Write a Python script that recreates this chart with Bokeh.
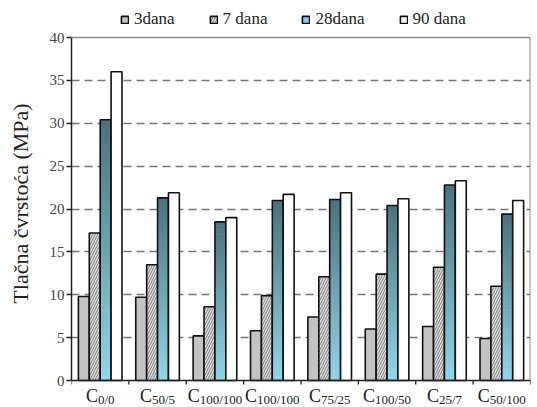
import numpy as np
from bokeh.plotting import figure
from bokeh.models import Range1d, FixedTicker, Legend, LegendItem, Span
from bokeh.core.properties import value
from bokeh.embed import file_html
from bokeh.resources import INLINE

# ---- data ----
groups = ["0/0", "50/5", "100/100", "100/100", "75/25", "100/50", "25/7", "50/100"]
series_names = ["3dana", "7 dana", "28dana", "90 dana"]
d3 = [9.8, 9.7, 5.2, 5.8, 7.4, 6.0, 6.3, 4.9]
d7 = [17.2, 13.5, 8.6, 9.9, 12.1, 12.4, 13.2, 11.0]
d28 = [30.4, 21.3, 18.5, 21.0, 21.1, 20.4, 22.8, 19.4]
d90 = [36.0, 21.9, 19.0, 21.7, 21.9, 21.2, 23.3, 21.0]
yticks = [0, 5, 10, 15, 20, 25, 30, 35, 40]

SERIF = "Liberation Serif"
FRAME_W, FRAME_H = 459, 404
PXY = 8.575                          # pixels per y unit
Y_LO = -25 / PXY
Y_HI = Y_LO + FRAME_H / PXY
PXX = FRAME_W / len(groups)          # pixels per x unit

p = figure(width=536, height=406, x_range=Range1d(0, len(groups)), y_range=Range1d(Y_LO, Y_HI),
           output_backend="svg", toolbar_location=None,
           min_border_left=71, min_border_right=6, min_border_top=1, min_border_bottom=1)
p.background_fill_color = "white"
p.border_fill_color = "white"
p.outline_line_color = None
p.xaxis.visible = False

# grid
p.xgrid.visible = False
p.ygrid.ticker = FixedTicker(ticks=yticks[1:-1])
p.ygrid.grid_line_color = "#777777"
p.ygrid.grid_line_dash = "8 5"
p.ygrid.grid_line_width = 1.6

# y axis
p.yaxis.bounds = (yticks[0], yticks[-1])
p.yaxis.ticker = FixedTicker(ticks=yticks)
p.yaxis.axis_line_color = "#222222"
p.yaxis.axis_line_width = 1.5
p.yaxis.major_tick_in = 0
p.yaxis.major_tick_out = 5
p.yaxis.major_tick_line_color = "#222222"
p.yaxis.major_tick_line_width = 1.3
p.yaxis.minor_tick_line_color = None
p.yaxis.major_label_text_font = SERIF
p.yaxis.major_label_text_font_size = "15px"
p.yaxis.major_label_text_color = "#444444"
p.yaxis.major_label_standoff = 2
p.yaxis.axis_label = "Tlačna čvrstoća (MPa)"
p.yaxis.axis_label_text_font = SERIF
p.yaxis.axis_label_text_font_style = "normal"
p.yaxis.axis_label_text_font_size = "22px"
p.yaxis.axis_label_text_color = "#222222"
p.yaxis.axis_label_standoff = 14

# frame lines: x axis at 0, grey top/right border
p.add_layout(Span(location=0, dimension="width", line_color="#222222", line_width=1.5))
p.add_layout(Span(location=yticks[-1], dimension="width", line_color="#8a8a8a", line_width=1.5))
p.segment(x0=[len(groups)], y0=[0], x1=[len(groups)], y1=[yticks[-1]],
          line_color="#8a8a8a", line_width=2)
bx = list(range(len(groups) + 1))
p.segment(x0=bx, y0=[0] * len(bx), x1=bx, y1=[-4 / PXY] * len(bx),
          line_color="#222222", line_width=1.3)

# bars
w = 0.19
xc = np.arange(len(groups)) + 0.5
offs = [(j - 1.5) * w for j in range(4)]
LW = 1.6
OUT = "#111111"

x0 = xc + offs[0]
r3 = p.quad(left=x0 - w / 2, right=x0 + w / 2, bottom=0, top=d3,
            fill_color="#c3c3c3", line_color=OUT, line_width=LW)

x1 = xc + offs[1]
r7 = p.quad(left=x1 - w / 2, right=x1 + w / 2, bottom=0, top=d7,
            fill_color="#dcdcdc", line_color=OUT, line_width=LW,
            hatch_pattern="/", hatch_color="#808080", hatch_scale=5, hatch_weight=1)

x2 = xc + offs[2]
N = 40
top_rgb = np.array([74, 114, 126])
bot_rgb = np.array([144, 214, 234])
L, R, B, T, C = [], [], [], [], []
for k, v in enumerate(d28):
    for i in range(N):
        f = (i + 0.5) / N
        rgb = bot_rgb + (top_rgb - bot_rgb) * f
        L.append(x2[k] - w / 2)
        R.append(x2[k] + w / 2)
        B.append(v * i / N)
        T.append(min(v, v * (i + 1) / N + v * 0.004))
        C.append("#%02x%02x%02x" % tuple(int(round(c)) for c in rgb))
r28f = p.quad(left=L, right=R, bottom=B, top=T, fill_color=C, line_color=None)
r28o = p.quad(left=x2 - w / 2, right=x2 + w / 2, bottom=0, top=d28,
              fill_color=None, line_color=OUT, line_width=LW)

x3 = xc + offs[3]
r90 = p.quad(left=x3 - w / 2, right=x3 + w / 2, bottom=0, top=d90,
             fill_color="white", line_color=OUT, line_width=LW)

# category labels: "C" with subscript
def tw(s, size):
    widths = {"/": 0.278}
    return sum(widths.get(ch, 0.5) for ch in s) * size

C_SIZE, S_SIZE = 18, 13
wC = 0.667 * C_SIZE
cx, sx = [], []
for k, g in enumerate(groups):
    left = -(wC + tw(g, S_SIZE)) / 2
    cx.append(float(xc[k] + left / PXX))
    sx.append(float(xc[k] + (left + wC) / PXX))
p.text(x=cx, y=[-15 / PXY] * len(groups), text=["C"] * len(groups),
       text_font=value(SERIF), text_font_size=value(f"{C_SIZE}px"), text_color="#222222",
       text_align="left", text_baseline="alphabetic")
p.text(x=sx, y=[-19 / PXY] * len(groups), text=groups,
       text_font=value(SERIF), text_font_size=value(f"{S_SIZE}px"), text_color="#222222",
       text_align="left", text_baseline="alphabetic")

# legend (inside the extended frame, above the top border) using the bar renderers
legend = Legend(items=[LegendItem(label=series_names[0], renderers=[r3]),
                       LegendItem(label=series_names[1], renderers=[r7]),
                       LegendItem(label=series_names[2], renderers=[r28f, r28o], index=4),
                       LegendItem(label=series_names[3], renderers=[r90])],
                orientation="horizontal", glyph_width=9, glyph_height=9,
                label_text_font=SERIF, label_text_font_size="17px",
                label_text_color="#222222", spacing=34, label_standoff=5,
                padding=0, margin=0, border_line_color=None,
                background_fill_alpha=0, location=(49, 376))
p.add_layout(legend, "center")

open("out.html", "w").write(file_html(p, INLINE))
